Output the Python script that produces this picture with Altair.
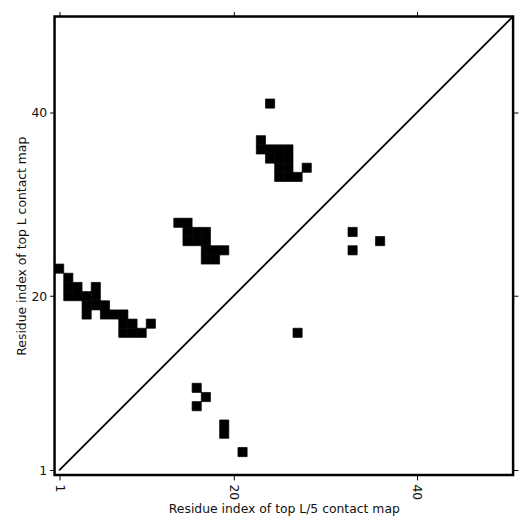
import altair as alt
import pandas as pd

# Upper-left triangle: top L contacts (column index, row index)
top_L_x = [1, 2, 2, 2, 3, 3, 4, 4, 4, 5, 5, 5, 6, 6, 7, 8, 8, 8, 9, 9, 10, 11,
           14, 15, 15, 16, 17, 15, 16, 17, 17, 18, 19, 17, 18,
           24, 23, 23, 24, 25, 26, 24, 25, 26, 25, 26, 28, 25, 26, 27]
top_L_y = [23, 22, 21, 20, 21, 20, 20, 19, 18, 21, 20, 19, 19, 18, 18, 18, 17, 16, 17, 16, 16, 17,
           28, 28, 27, 27, 27, 26, 26, 26, 25, 25, 25, 24, 24,
           41, 37, 36, 36, 36, 36, 35, 35, 35, 34, 34, 34, 33, 33, 33]

# Lower-right triangle: top L/5 contacts
top_L5_x = [16, 17, 16, 19, 19, 21, 33, 36, 33, 27]
top_L5_y = [10, 9, 8, 6, 5, 3, 27, 26, 25, 16]

tick_values = [1, 20, 40]
L = 50

cells = pd.DataFrame({
    "i": top_L_x + top_L5_x,
    "j": top_L_y + top_L5_y,
})
cells["x0"] = cells["i"] - 0.5
cells["x1"] = cells["i"] + 0.5
cells["y0"] = cells["j"] - 0.5
cells["y1"] = cells["j"] + 0.5

diag = pd.DataFrame({"a": [1, L + 0.5]})

dom = [0.5, L + 0.5]
font = "DejaVu Sans"
fs = 12.5

xscale = alt.Scale(domain=dom, nice=False, zero=False)
yscale = alt.Scale(domain=dom, nice=False, zero=False)

rects = alt.Chart(cells).mark_rect(color="black", stroke="black", strokeWidth=0.7).encode(
    x=alt.X("x0:Q", scale=xscale,
            axis=alt.Axis(values=tick_values, orient="bottom", title="Residue index of top L/5 contact map",
                          labelAngle=90, labelAlign="left", labelBaseline="middle",
                          domain=False, grid=False, tickColor="black", tickSize=5, tickWidth=1,
                          labelColor="#111111", labelFont=font, labelFontSize=fs, labelPadding=4,
                          titleFont=font, titleFontSize=fs, titleFontWeight="normal",
                          titleColor="#111111", titlePadding=3)),
    x2="x1:Q",
    y=alt.Y("y0:Q", scale=yscale,
            axis=alt.Axis(values=tick_values, orient="left", title="Residue index of top L contact map",
                          domain=False, grid=False, tickColor="black", tickSize=5, tickWidth=1,
                          labelColor="#111111", labelFont=font, labelFontSize=fs, labelPadding=3,
                          titleFont=font, titleFontSize=fs, titleFontWeight="normal",
                          titleColor="#111111", titlePadding=2)),
    y2="y1:Q",
)

line = alt.Chart(diag).mark_line(color="black", strokeWidth=1.8).encode(
    x=alt.X("a:Q", scale=xscale,
            axis=alt.Axis(values=tick_values, orient="top", labels=False, title=None,
                          domain=False, grid=False, tickColor="black", tickSize=5, tickWidth=1)),
    y=alt.Y("a:Q", scale=yscale,
            axis=alt.Axis(values=tick_values, orient="right", labels=False, title=None,
                          domain=False, grid=False, tickColor="black", tickSize=5, tickWidth=1)),
)

chart = alt.layer(rects, line).resolve_axis(x="independent", y="independent").properties(
    width=463, height=463,
    autosize=alt.AutoSizeParams(type="none"),
    padding={"left": 47, "top": 6, "right": 10, "bottom": 50},
).configure_view(stroke="black", strokeWidth=2.5)

chart.save("out.html", embed_options={"renderer": "svg", "actions": False})
